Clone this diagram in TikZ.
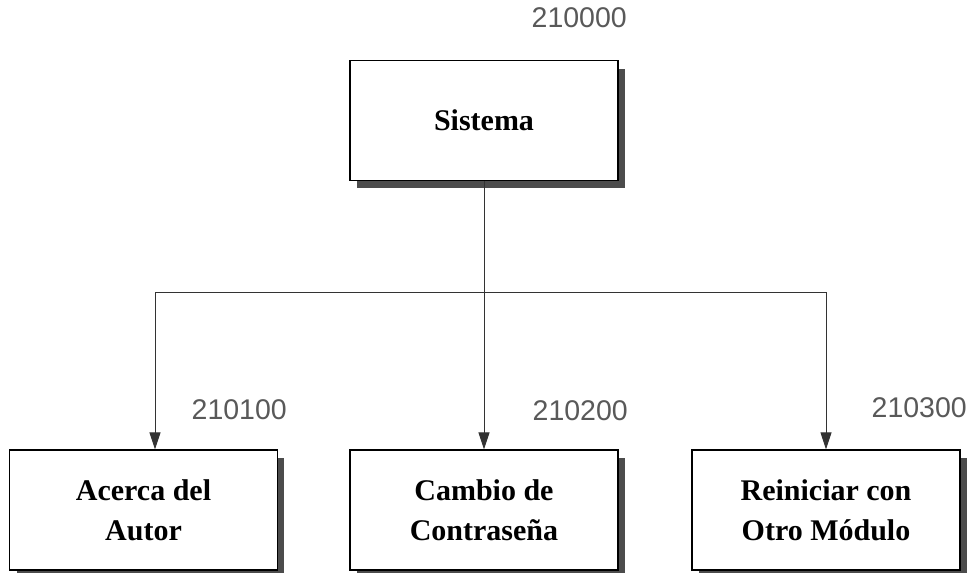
\documentclass[tikz,border=0pt]{standalone}
\usepackage{fontspec}
\setmainfont{Liberation Serif}
\newfontfamily\labfont{Liberation Sans}
\usetikzlibrary{arrows.meta}
\tikzset{
  modbox/.style={draw=black, line width=1.3pt, fill=white, minimum width=268pt, minimum height=120pt,
    align=center, inner sep=0pt, font=\fontsize{30}{40}\selectfont\bfseries},
  shadowbox/.style={fill=black!70, draw=none},
  codelabel/.style={text=black!65, font=\labfont\fontsize{28.5}{30}\selectfont, inner sep=0pt},
  conn/.style={line width=1pt, draw=black!80},
  arr/.style={conn, -{Triangle[length=17pt, width=11pt]}}
}
\begin{document}
\begin{tikzpicture}[x=1pt,y=-1pt]
\useasboundingbox (0,0) rectangle (975,573);
% shadows
\fill[shadowbox] (357,69) rectangle (625,188);
\fill[shadowbox] (17,458) rectangle (284,578);
\fill[shadowbox] (357,458) rectangle (625,578);
\fill[shadowbox] (699,458) rectangle (967,578);
% boxes
\node[modbox] (sis) at (484,120.5) {Sistema};
\node[modbox] (aut) at (143.5,510) {Acerca del\\Autor};
\node[modbox] (con) at (484,510) {Cambio de\\Contraseña};
\node[modbox] (rei) at (826,510) {Reiniciar con\\Otro Módulo};
% labels
\node[codelabel, anchor=east] (l0) at (627,18) {210000};
\node[codelabel, anchor=east] (l1) at (287,410) {210100};
\node[codelabel, anchor=east] (l2) at (628,411) {210200};
\node[codelabel, anchor=east] (l3) at (967,408) {210300};
% connectors
\coordinate (hl) at (155,292);
\coordinate (hr) at (826,292);
\draw[conn] (sis.south) -- (sis.south |- hl);
\draw[conn] (hl) -- (hr);
\draw[arr] (hl) -- (hl |- aut.north);
\draw[arr] (sis.south |- hl) -- (con.north);
\draw[arr] (hr) -- (rei.north);
\end{tikzpicture}
\end{document}
